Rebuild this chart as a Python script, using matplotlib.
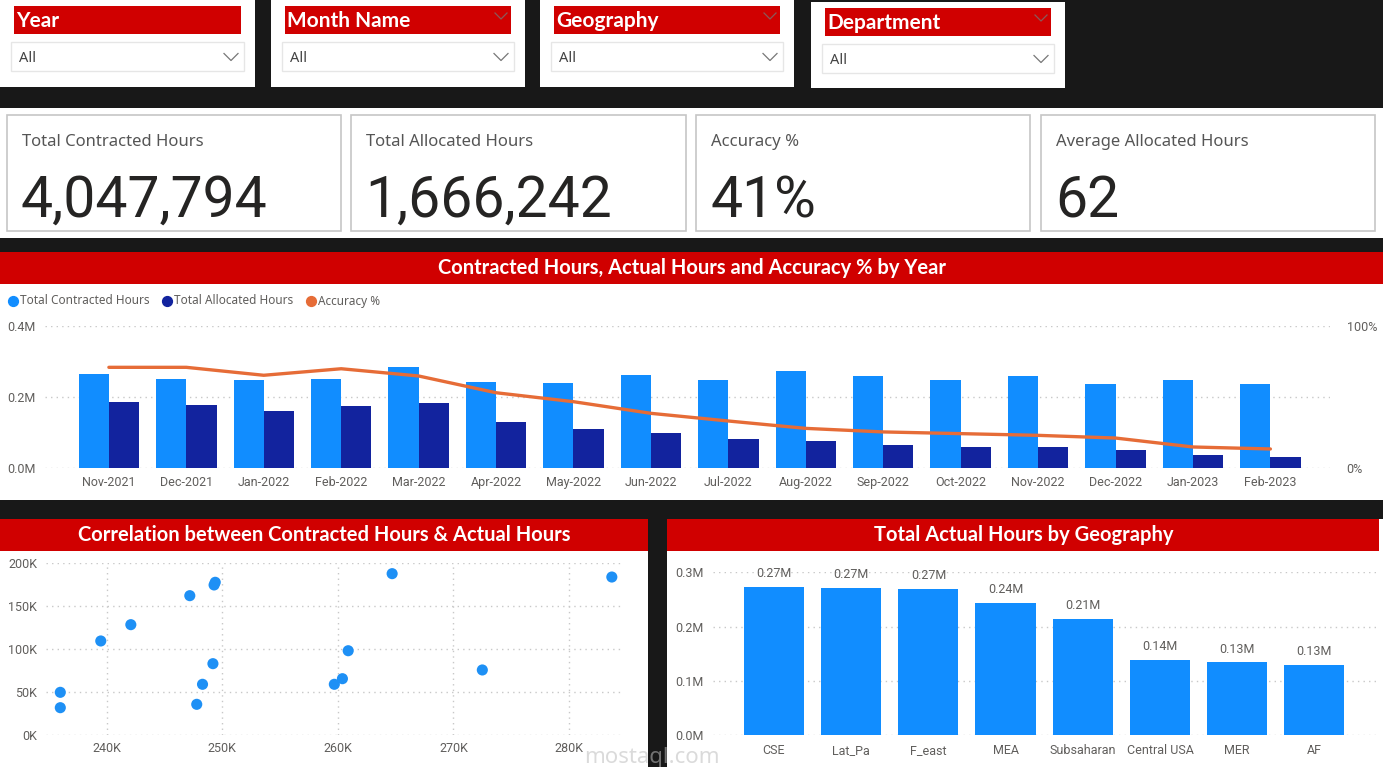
import numpy as np
import matplotlib.pyplot as plt
from matplotlib.patches import Rectangle
from matplotlib.ticker import FuncFormatter

W, H = 1383, 767

# ---- data ----
months = ['Nov-2021', 'Dec-2021', 'Jan-2022', 'Feb-2022', 'Mar-2022', 'Apr-2022',
          'May-2022', 'Jun-2022', 'Jul-2022', 'Aug-2022', 'Sep-2022', 'Oct-2022',
          'Nov-2022', 'Dec-2022', 'Jan-2023', 'Feb-2023']
contracted_k = [264.7, 249.4, 247.2, 249.3, 283.7, 242.1, 239.5, 260.9,
                249.2, 272.5, 260.4, 248.3, 259.7, 236.0, 247.8, 236.0]
allocated_k = [187.3, 177.3, 161.8, 174.2, 183.4, 128.2, 109.3, 98.0,
               83.0, 75.7, 65.6, 59.1, 59.1, 49.8, 35.9, 32.0]
accuracy_pct = [70.9, 70.9, 65.3, 69.9, 64.8, 53.0, 46.7, 38.5,
                33.1, 27.9, 25.4, 24.2, 23.0, 21.1, 14.8, 13.4]

geo_names = ['CSE', 'Lat_Pa', 'F_east', 'MEA', 'Subsaharan', 'Central USA', 'MER', 'AF']
geo_hours_m = [0.273, 0.272, 0.269, 0.243, 0.214, 0.138, 0.134, 0.130]

slicers = ['Year', 'Month Name', 'Geography', 'Department']
kpi_names = ['Total Contracted Hours', 'Total Allocated Hours', 'Accuracy %', 'Average Allocated Hours']
kpi_values = ['4,047,794', '1,666,242', '41%', '62']

# ---- colours / fonts ----
RED = '#d00000'
LIGHT = '#118DFF'
DARK = '#12239E'
ORANGE = '#E66C37'
GREY = '#605E5C'
GRID = '#c8c8c8'
UI = 'Roboto'
HEAD = 'Lato'

plt.rcParams['font.family'] = [UI, 'DejaVu Sans']
plt.rcParams['xtick.labelsize'] = 9
plt.rcParams['ytick.labelsize'] = 9

fig = plt.figure(figsize=(W / 100, H / 100), dpi=100)
fig.patch.set_facecolor('#181818')

bg = fig.add_axes([0, 0, 1, 1])
bg.set_xlim(0, W)
bg.set_ylim(H, 0)
bg.axis('off')


def rect(x, y, w, h, fc, ec='none', lw=1):
    bg.add_patch(Rectangle((x, y), w, h, facecolor=fc, edgecolor=ec, linewidth=lw))


def chevron(x, y, color='#777777', s=6):
    bg.plot([x - s, x, x + s], [y - s / 2, y + s / 2, y - s / 2], color=color, lw=0.9)


def px_axes(x0, y0, x1, y1):
    return fig.add_axes([x0 / W, 1 - y1 / H, (x1 - x0) / W, (y1 - y0) / H])


def style(a, xpad, ypad):
    a.tick_params(length=0, labelcolor=GREY)
    a.tick_params(axis='y', pad=ypad)
    a.tick_params(axis='x', pad=xpad)
    for s in a.spines.values():
        s.set_visible(False)
    a.patch.set_alpha(0)
    a.set_axisbelow(True)


# slicers
panels = [(0, 0, 255, 87), (271, 0, 254, 87), (540, 0, 254, 87), (811, 2, 254, 86)]
for i, (name, (px, py, pw, ph)) in enumerate(zip(slicers, panels)):
    rect(px, py, pw, ph, 'white')
    rect(px + 14, py + 6, pw - 28, 28, RED)
    bg.text(px + 16, py + 21, name, color='white', fontsize=15, fontweight='bold',
            family=HEAD, va='center', ha='left')
    if i > 0:
        chevron(px + pw - 24, py + 16, color='#8a5a5a', s=6)
    rect(px + 11, py + 42, pw - 22, 29, 'white', ec='#e6e6e6', lw=1)
    bg.text(px + 19, py + 58, 'All', color='#444444', fontsize=10.5, family='Noto Sans',
            va='center')
    chevron(px + pw - 24, py + 57, color='#777777', s=7)

# KPI cards
rect(0, 108, W, 130, 'white')
cards = [(7, 115, 334), (351, 115, 335), (696, 115, 334), (1041, 115, 334)]
for name, val, (cx, cy, cw) in zip(kpi_names, kpi_values, cards):
    rect(cx, cy, cw, 116, 'white', ec='#c6c6c6', lw=1.2)
    bg.text(cx + 15, cy + 27, name, color='#555555', fontsize=12, family='Noto Sans',
            va='center')
    bg.text(cx + 14, cy + 102, val, color='#252423', fontsize=41, family='Roboto',
            va='baseline')

# main chart panel
rect(0, 252, W, 248, 'white')
rect(0, 252, W, 32, RED)
bg.text(692, 268, 'Contracted Hours, Actual Hours and Accuracy % by Year', color='white',
        fontsize=14.5, fontweight='bold', family=HEAD, ha='center', va='center')
legend_items = [('Total Contracted Hours', LIGHT, 13), ('Total Allocated Hours', DARK, 167),
                ('Accuracy %', ORANGE, 311)]
for lab, col, lx in legend_items:
    bg.scatter([lx], [301], s=50, color=col, zorder=3)
    bg.text(lx + 7, 301, lab, color=GREY, fontsize=8.5, family='Noto Sans', va='center')

ax = px_axes(45, 326, 1330, 468)
x = np.arange(len(months))
bw = 0.39
ax.bar(x - bw / 2, np.array(contracted_k) * 1000, bw, color=LIGHT, zorder=2)
ax.bar(x + bw / 2, np.array(allocated_k) * 1000, bw, color=DARK, zorder=2)
ax.set_xlim(-0.825, 15.77)
ax.set_ylim(0, 400000)
ax.set_yticks([0, 200000, 400000])
ax.yaxis.set_major_formatter(FuncFormatter(lambda v, p: f'{v / 1e6:.1f}M'))
ax.set_xticks(x)
ax.set_xticklabels(months)
ax.yaxis.grid(True, linestyle=(0, (1, 3)), color=GRID, lw=1)
style(ax, 6, 7)

ax2 = ax.twinx()
ax2.plot(x, np.array(accuracy_pct) / 100, color=ORANGE, lw=2.4, solid_capstyle='round', zorder=3)
ax2.set_ylim(0, 1)
ax2.set_yticks([0, 1])
ax2.set_yticklabels(['0%', '100%'])
style(ax2, 5, 12)

# scatter panel
rect(0, 519, 648, 248, 'white')
rect(0, 519, 648, 32, RED)
bg.text(324, 535, 'Correlation between Contracted Hours & Actual Hours', color='white',
        fontsize=14.5, fontweight='bold', family=HEAD, ha='center', va='center')

sa = px_axes(45.5, 562.7, 622, 735.3)
sa.scatter(np.array(contracted_k) * 1000, np.array(allocated_k) * 1000, s=64,
           color='#1E90F5', zorder=3, edgecolors='none')
sa.set_xlim(234720, 284580)
sa.set_ylim(0, 200000)
sa.set_xticks([240000, 250000, 260000, 270000, 280000])
sa.set_yticks([0, 50000, 100000, 150000, 200000])
kfmt = FuncFormatter(lambda v, p: f'{v / 1000:.0f}K')
sa.xaxis.set_major_formatter(kfmt)
sa.yaxis.set_major_formatter(kfmt)
sa.grid(True, linestyle=(0, (1, 3)), color=GRID, lw=1)
style(sa, 5, 6)

# geography panel
rect(667, 519, W - 667, 248, 'white')
rect(667, 519, 712, 32, RED)
bg.text(1024, 535, 'Total Actual Hours by Geography', color='white',
        fontsize=14.5, fontweight='bold', family=HEAD, ha='center', va='center')

ga = px_axes(713, 572.3, 1380, 735.3)
gx = np.arange(len(geo_names))
bars = ga.bar(gx, geo_hours_m, 0.78, color=LIGHT, zorder=2)
ga.bar_label(bars, labels=[f'{v:.2f}M' for v in geo_hours_m], padding=5,
             color=GREY, fontsize=9)
ga.set_xlim(-0.79, 7.85)
ga.set_ylim(0, 0.3)
ga.set_yticks([0, 0.1, 0.2, 0.3])
ga.yaxis.set_major_formatter(FuncFormatter(lambda v, p: f'{v:.1f}M'))
ga.set_xticks(gx)
ga.set_xticklabels(geo_names)
ga.yaxis.grid(True, linestyle=(0, (1, 3)), color=GRID, lw=1)
style(ga, 6, 7)

# watermark
bg.text(652, 757, 'mostaql.com', color='#bdbdbd', alpha=0.55, fontsize=16,
        family='Noto Sans', ha='center', va='center', zorder=5)

fig.savefig('out.png', dpi=100, facecolor=fig.get_facecolor())
